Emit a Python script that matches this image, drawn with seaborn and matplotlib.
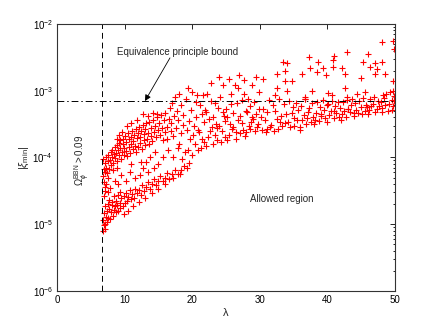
import matplotlib
matplotlib.use("Agg")
import matplotlib.pyplot as plt
import seaborn as sns
from matplotlib.ticker import MultipleLocator, LogLocator, NullFormatter

sns.set_style("white")
plt.rcParams['font.family'] = ['Liberation Sans', 'DejaVu Sans']
plt.rcParams['mathtext.fontset'] = 'custom'
plt.rcParams['mathtext.rm'] = 'Liberation Sans'
plt.rcParams['mathtext.it'] = 'Liberation Sans:italic'

# --- scan points: (lambda, |xi_min|) ---
# lower band, left of lambda = 20
lam_low = [6.8, 6.95, 7.05, 6.85, 7.15, 7.3, 6.9, 7.45, 7.35, 7.1, 7.6, 7.7, 7.5, 7.85, 7.95,
           8.05, 7.75, 8.2, 8.35, 8.15, 8.5, 8.45, 8.7, 8.65, 8.9, 9.05, 9.0, 9.25, 9.35, 9.5,
           9.3, 9.7, 9.85, 10.0, 10.2, 10.35, 10.55, 10.75, 10.9, 11.15, 11.4, 11.55, 11.8,
           12.05, 12.35, 12.6, 12.9, 13.2, 13.4, 13.75, 14.05, 14.3, 14.6, 14.95, 15.25, 15.6,
           15.9, 16.3, 16.6, 17.0, 17.45, 17.9, 18.4, 18.8, 19.2, 19.5,
           9.9, 10.5, 11.2, 12.1, 13.0, 14.0, 15.0, 16.0, 17.2, 18.2]
xi_low = [7.9e-6, 9.6e-6, 8.4e-6, 1.15e-5, 1.02e-5, 1.3e-5, 1.45e-5, 1.08e-5, 1.6e-5, 1.85e-5,
          1.25e-5, 1.7e-5, 2.0e-5, 1.18e-5, 1.5e-5, 1.95e-5, 2.3e-5, 1.32e-5, 1.62e-5, 2.15e-5,
          1.85e-5, 2.6e-5, 1.5e-5, 2.25e-5, 1.95e-5, 1.6e-5, 2.7e-5, 2.1e-5, 1.75e-5, 2.45e-5,
          3.0e-5, 1.9e-5, 2.6e-5, 2.05e-5, 2.9e-5, 2.2e-5, 2.55e-5, 3.2e-5, 2.4e-5, 2.85e-5,
          2.5e-5, 3.4e-5, 2.9e-5, 3.2e-5, 2.7e-5, 3.8e-5, 3.15e-5, 3.6e-5, 4.3e-5, 3.4e-5,
          4.0e-5, 4.8e-5, 3.8e-5, 4.5e-5, 5.3e-5, 4.4e-5, 5.0e-5, 5.9e-5, 4.8e-5, 5.6e-5,
          6.4e-5, 5.6e-5, 6.5e-5, 7.5e-5, 7.0e-5, 8.3e-5,
          1.4e-5, 1.6e-5, 1.85e-5, 2.15e-5, 2.45e-5, 2.9e-5, 3.4e-5, 4.0e-5, 4.9e-5, 5.7e-5]

# sparse points between the two bands
lam_gap = [7.5, 7.3, 7.6, 7.1, 7.8, 8.5, 8.2, 9.0, 9.5, 8.8, 10.2, 10.8, 11.5, 11.0, 12.2, 12.7,
           13.5, 13.2, 14.3, 15.0, 12.4, 13.7, 14.5, 15.6, 16.4, 17.2, 17.9, 18.5, 19.4]
xi_gap = [3.0e-5, 4.0e-5, 5.0e-5, 6.0e-5, 3.5e-5, 4.5e-5, 6.5e-5, 4.0e-5, 5.5e-5, 7.0e-5, 4.5e-5,
          6.0e-5, 5.0e-5, 8.0e-5, 5.5e-5, 7.0e-5, 6.0e-5, 8.5e-5, 7.0e-5, 8.0e-5, 8.5e-5, 1.0e-4,
          1.2e-4, 1.0e-4, 1.3e-4, 1.0e-4, 1.4e-4, 9.5e-5, 1.3e-4]

# upper band, left of lambda = 20
lam_up = [6.8, 6.95, 7.05, 6.85, 7.2, 7.25, 7.4, 7.5, 7.55, 7.7, 7.8, 7.95, 7.9, 7.0, 7.15, 6.9, 7.05,
          8.05, 8.15, 8.3, 8.35, 8.5, 8.6, 8.7, 8.8, 8.85, 8.95,
          9.1, 9.15, 9.3, 9.35, 9.5, 9.55, 9.7, 9.8, 9.85, 9.95,
          10.05, 10.2, 10.25, 10.4, 10.45, 10.6, 10.7, 10.75, 10.9, 10.95,
          11.05, 11.2, 11.3, 11.35, 11.5, 11.6, 11.7, 11.75, 11.9, 11.95,
          12.05, 12.2, 12.3, 12.4, 12.55, 12.65, 12.8, 12.85, 12.95,
          13.05, 13.15, 13.35, 13.45, 13.6, 13.65, 13.85, 13.95,
          14.1, 14.15, 14.35, 14.45, 14.65, 14.75, 14.9,
          15.05, 15.2, 15.35, 15.55, 15.65, 15.8, 15.95,
          16.0, 16.2, 16.3, 16.5, 16.7, 16.8, 16.9,
          17.0, 17.1, 17.3, 17.5, 17.6, 17.8, 17.9,
          18.0, 18.1, 18.3, 18.4, 18.6, 18.7, 18.9,
          19.0, 19.2, 19.3, 19.5, 19.6, 19.8, 19.9,
          9.6, 10.3, 11.0, 11.8, 12.7, 13.4, 14.2, 14.8, 8.9, 9.2]
xi_up = [5.2e-5, 6.8e-5, 8.3e-5, 9.4e-5, 7.0e-5, 1.0e-4, 5.8e-5, 8.8e-5, 1.08e-4, 6.6e-5, 9.2e-5,
         1.2e-4, 7.8e-5, 4.3e-5, 3.6e-5, 2.6e-5, 3.1e-5,
         1.0e-4, 1.3e-4, 8.2e-5, 1.12e-4, 1.42e-4, 9.8e-5, 1.18e-4, 1.55e-4, 8.8e-5, 1.28e-4,
         1.65e-4, 1.08e-4, 1.38e-4, 1.85e-4, 9.5e-5, 1.22e-4, 1.58e-4, 1.9e-4, 1.1e-4, 1.4e-4,
         2.1e-4, 1.25e-4, 1.7e-4, 1.05e-4, 2.3e-4, 1.45e-4, 1.88e-4, 1.18e-4, 2.05e-4, 1.6e-4,
         2.5e-4, 1.32e-4, 1.78e-4, 2.2e-4, 1.5e-4, 2.7e-4, 1.2e-4, 1.95e-4, 2.35e-4, 1.42e-4,
         2.9e-4, 1.65e-4, 2.05e-4, 2.5e-4, 1.35e-4, 3.1e-4, 1.8e-4, 2.25e-4, 1.55e-4,
         2.7e-4, 3.3e-4, 1.9e-4, 2.35e-4, 1.6e-4, 3.4e-4, 2.1e-4, 2.8e-4,
         1.75e-4, 3.7e-4, 2.4e-4, 3.0e-4, 2.0e-4, 4.0e-4, 2.6e-4,
         3.3e-4, 2.2e-4, 4.3e-4, 2.8e-4, 1.8e-4, 3.6e-4, 2.4e-4,
         4.6e-4, 2.9e-4, 1.9e-4, 3.8e-4, 5.5e-4, 2.5e-4, 3.3e-4,
         6.5e-4, 2.1e-4, 4.2e-4, 8.0e-4, 2.8e-4, 5.0e-4, 3.6e-4,
         9.0e-4, 1.6e-4, 2.3e-4, 6.0e-4, 3.1e-4, 4.3e-4, 1.2e-4,
         7.5e-4, 2.6e-4, 1.1e-3, 3.5e-4, 1.9e-4, 5.2e-4, 9.5e-4,
         2.4e-4, 3.0e-4, 3.3e-4, 3.6e-4, 4.5e-4, 4.2e-4, 4.7e-4, 4.5e-4, 1.9e-4, 2.2e-4]

# band between lambda = 20 and 30
lam_mid = [20.0, 20.1, 20.3, 20.4, 20.5, 20.6, 20.8, 20.9, 20.7,
           21.0, 21.1, 21.3, 21.4, 21.5, 21.6, 21.8, 21.9, 21.7,
           22.0, 22.1, 22.2, 22.4, 22.5, 22.6, 22.8, 22.9, 22.7,
           23.0, 23.1, 23.3, 23.4, 23.5, 23.6, 23.8, 23.9, 23.7,
           24.0, 24.1, 24.3, 24.4, 24.5, 24.6, 24.8, 24.9, 24.7,
           25.0, 25.1, 25.2, 25.4, 25.5, 25.6, 25.8, 25.9, 25.7,
           26.0, 26.1, 26.3, 26.4, 26.5, 26.6, 26.8, 26.9, 26.7,
           27.0, 27.1, 27.3, 27.4, 27.5, 27.6, 27.8, 27.9, 27.7,
           28.0, 28.1, 28.3, 28.4, 28.5, 28.6, 28.8, 28.9, 28.7,
           29.0, 29.1, 29.3, 29.4, 29.5, 29.6, 29.8, 29.9, 29.7]
xi_mid = [1.1e-4, 2.2e-4, 3.0e-4, 1.6e-4, 6.8e-4, 4.0e-4, 1.3e-4, 2.6e-4, 8.5e-4,
          2.4e-4, 6.0e-4, 1.4e-4, 4.4e-4, 1.9e-4, 8.6e-4, 3.4e-4, 5.1e-4, 1.7e-4,
          1.5e-4, 4.8e-4, 9.0e-4, 2.0e-4, 3.8e-4, 2.5e-4, 1.3e-3, 2.9e-4, 7.0e-4,
          4.1e-4, 1.6e-4, 2.2e-4, 6.5e-4, 3.2e-4, 1.8e-4, 5.5e-4, 1.6e-3, 2.8e-4,
          3.0e-4, 8.0e-4, 1.7e-4, 2.5e-4, 4.8e-4, 1.2e-3, 3.5e-4, 2.0e-4, 4.2e-4,
          5.3e-4, 1.8e-4, 4.0e-4, 2.2e-4, 1.5e-3, 3.2e-4, 9.0e-4, 2.7e-4, 6.4e-4,
          2.9e-4, 4.6e-4, 1.2e-3, 2.4e-4, 1.9e-4, 6.5e-4, 3.6e-4, 1.7e-3, 1.1e-3,
          4.2e-4, 2.3e-4, 7.2e-4, 3.3e-4, 2.6e-4, 1.45e-3, 2.1e-4, 5.0e-4, 9.0e-4,
          2.4e-4, 4.8e-4, 7.5e-4, 3.0e-4, 2.7e-4, 5.8e-4, 1.2e-3, 4.0e-4, 3.4e-4,
          3.8e-4, 6.8e-4, 2.5e-4, 1.6e-3, 4.4e-4, 2.9e-4, 5.4e-4, 9.5e-4, 3.2e-4]

# band between lambda = 30 and 50
lam_right = [30.1, 30.3, 30.5, 30.7, 30.9, 31.1, 31.3, 31.5, 31.7, 31.9, 31.0,
             32.1, 32.3, 32.5, 32.7, 32.9, 33.1, 33.3, 33.5, 33.7, 33.9, 33.0,
             34.1, 34.3, 34.5, 34.7, 34.9, 35.1, 35.3, 35.5, 35.7, 35.9, 35.0,
             36.1, 36.3, 36.5, 36.7, 36.9, 37.1, 37.3, 37.5, 37.7, 37.9, 37.0,
             38.1, 38.3, 38.5, 38.7, 38.9, 39.1, 39.3, 39.5, 39.7, 39.9, 39.0,
             40.1, 40.3, 40.5, 40.7, 40.9, 41.1, 41.3, 41.5, 41.7, 41.9, 41.0,
             42.1, 42.3, 42.5, 42.7, 42.9, 43.1, 43.3, 43.5, 43.7, 43.9, 43.0,
             44.1, 44.3, 44.5, 44.7, 44.9, 45.1, 45.3, 45.5, 45.7, 45.9,
             46.1, 46.3, 46.5, 46.7, 46.9, 47.1, 47.3, 47.5, 47.7, 47.9,
             48.1, 48.3, 48.5, 48.7, 48.9, 49.1, 49.3, 49.5, 49.7, 49.9, 49.8,
             36.0, 38.0, 40.0, 42.0, 44.0, 46.0, 48.0, 49.6]
xi_right = [4.0e-4, 2.6e-4, 5.3e-4, 3.6e-4, 2.4e-4, 4.8e-4, 7.2e-4, 2.9e-4, 3.1e-4, 6.0e-4, 2.7e-4,
            2.5e-4, 5.0e-4, 3.8e-4, 2.7e-4, 7.5e-4, 4.2e-4, 3.0e-4, 6.3e-4, 3.3e-4, 4.5e-4, 3.4e-4,
            3.4e-4, 7.0e-4, 2.9e-4, 4.6e-4, 5.6e-4, 3.0e-4, 6.6e-4, 3.7e-4, 5.2e-4, 2.6e-4, 3.9e-4,
            5.8e-4, 3.6e-4, 4.3e-4, 7.6e-4, 3.2e-4, 4.8e-4, 5.5e-4, 3.4e-4, 6.5e-4, 4.1e-4, 3.9e-4,
            3.7e-4, 4.6e-4, 6.8e-4, 3.5e-4, 5.6e-4, 4.2e-4, 7.3e-4, 5.1e-4, 3.9e-4, 6.2e-4, 4.5e-4,
            6.4e-4, 4.3e-4, 5.0e-4, 7.0e-4, 3.9e-4, 5.9e-4, 4.6e-4, 6.7e-4, 4.0e-4, 5.5e-4, 4.9e-4,
            4.4e-4, 6.8e-4, 5.0e-4, 4.1e-4, 7.2e-4, 5.4e-4, 4.8e-4, 6.0e-4, 7.6e-4, 4.6e-4, 5.3e-4,
            6.5e-4, 5.2e-4, 4.7e-4, 7.0e-4, 5.7e-4, 4.5e-4, 7.8e-4, 5.0e-4, 6.2e-4, 5.6e-4,
            5.1e-4, 7.5e-4, 5.8e-4, 6.3e-4, 8.0e-4, 4.8e-4, 5.4e-4, 6.9e-4, 5.9e-4, 6.7e-4,
            5.5e-4, 7.8e-4, 6.2e-4, 8.8e-4, 5.0e-4, 6.4e-4, 9.5e-4, 7.2e-4, 5.8e-4, 8.3e-4, 7.0e-4,
            2.9e-4, 3.2e-4, 3.4e-4, 3.7e-4, 4.2e-4, 4.5e-4, 4.8e-4, 5.2e-4]

# scattered points above the bound, lambda > 30
lam_top = [30.5, 32.3, 32.5, 32.5, 33.4, 33.7, 33.7, 34.0, 34.0, 34.8, 36.2, 36.7, 37.3, 37.4,
           37.7, 38.4, 38.6, 39.3, 39.8, 40.8, 40.8, 41.0, 42.2, 42.6, 42.9, 45.0, 45.3, 46.0,
           46.3, 47.0, 47.0, 47.3, 48.1, 48.1, 48.5, 49.7, 49.7, 49.8,
           40.1, 40.7, 42.9, 44.4, 45.6, 48.2, 49.7, 36.7, 42.6]
xi_top = [1.5e-3, 8.6e-4, 1.1e-3, 1.8e-3, 2.7e-3, 1.4e-3, 2.0e-3, 2.6e-3, 1.0e-3, 1.4e-3, 1.75e-3,
          8.0e-4, 3.2e-3, 2.2e-3, 1.0e-3, 1.9e-3, 2.7e-3, 2.2e-3, 1.7e-3, 2.9e-3, 2.3e-3, 3.3e-3,
          2.2e-3, 1.8e-3, 3.8e-3, 1.55e-3, 2.7e-3, 3.6e-3, 2.3e-3, 2.6e-3, 1.8e-3, 2.1e-3, 5.4e-3,
          2.7e-3, 1.8e-3, 5.6e-3, 1.4e-3, 4.2e-3,
          9.3e-4, 8.6e-4, 8.0e-4, 9.0e-4, 9.5e-4, 8.6e-4, 1.0e-3, 7.6e-4, 1.1e-3]

lam = lam_low + lam_gap + lam_up + lam_mid + lam_right + lam_top
xi = xi_low + xi_gap + xi_up + xi_mid + xi_right + xi_top

LAMBDA_BBN = 6.6      # Omega_phi^BBN > 0.09 limit
XI_EP = 7.0e-4        # equivalence principle bound


def plot_xi_vs_lambda():
    """Scatter of |xi_min| against lambda with the BBN and EP bounds."""
    fig = plt.figure(figsize=(4.36, 3.28), dpi=100)
    ax = fig.add_axes([0.131, 0.113, 0.775, 0.814])

    sns.scatterplot(x=lam, y=xi, ax=ax, marker='+', color='red', s=22,
                    linewidth=0.8, legend=False)

    ax.axvline(LAMBDA_BBN, color='black', linestyle=(0, (6, 4)), linewidth=0.7)
    ax.axhline(XI_EP, color='black', linestyle=(0, (7, 3, 1.5, 3)), linewidth=0.7)

    ax.set_yscale('log')
    ax.set_xlim(0, 50)
    ax.set_ylim(1e-6, 1e-2)
    ax.xaxis.set_major_locator(MultipleLocator(10))
    ax.yaxis.set_major_locator(LogLocator(base=10, numticks=10))
    ax.yaxis.set_minor_locator(LogLocator(base=10, subs=range(2, 10), numticks=20))
    ax.yaxis.set_minor_formatter(NullFormatter())
    ax.tick_params(which='both', direction='in', top=True, right=True,
                   labelsize=7, colors='black', width=0.6)
    ax.tick_params(which='major', length=3.5, pad=3)
    ax.tick_params(which='minor', length=1.8)
    for sp in ax.spines.values():
        sp.set_color('#333333')
        sp.set_linewidth(0.8)

    ax.set_xlabel('λ', fontsize=8, labelpad=2)
    ax.set_ylabel(r'$|\xi_{\rm min}|$', fontsize=8, labelpad=1)

    ax.text(8.9, 3.8e-3, 'Equivalence principle bound', fontsize=7, va='center')
    ax.annotate('', xy=(13.0, 7.0e-4), xytext=(16.7, 3.1e-3),
                arrowprops=dict(arrowstyle='-|>', color='black', lw=0.6,
                                mutation_scale=9, shrinkA=0, shrinkB=0))
    ax.text(28.5, 2.4e-5, 'Allowed region', fontsize=7, va='center')
    ax.text(3.7, 9e-5, r'$\Omega_\phi^{\rm BBN} > 0.09$', fontsize=7,
            rotation=90, ha='center', va='center')

    fig.savefig('out.png', dpi=100)


plot_xi_vs_lambda()
